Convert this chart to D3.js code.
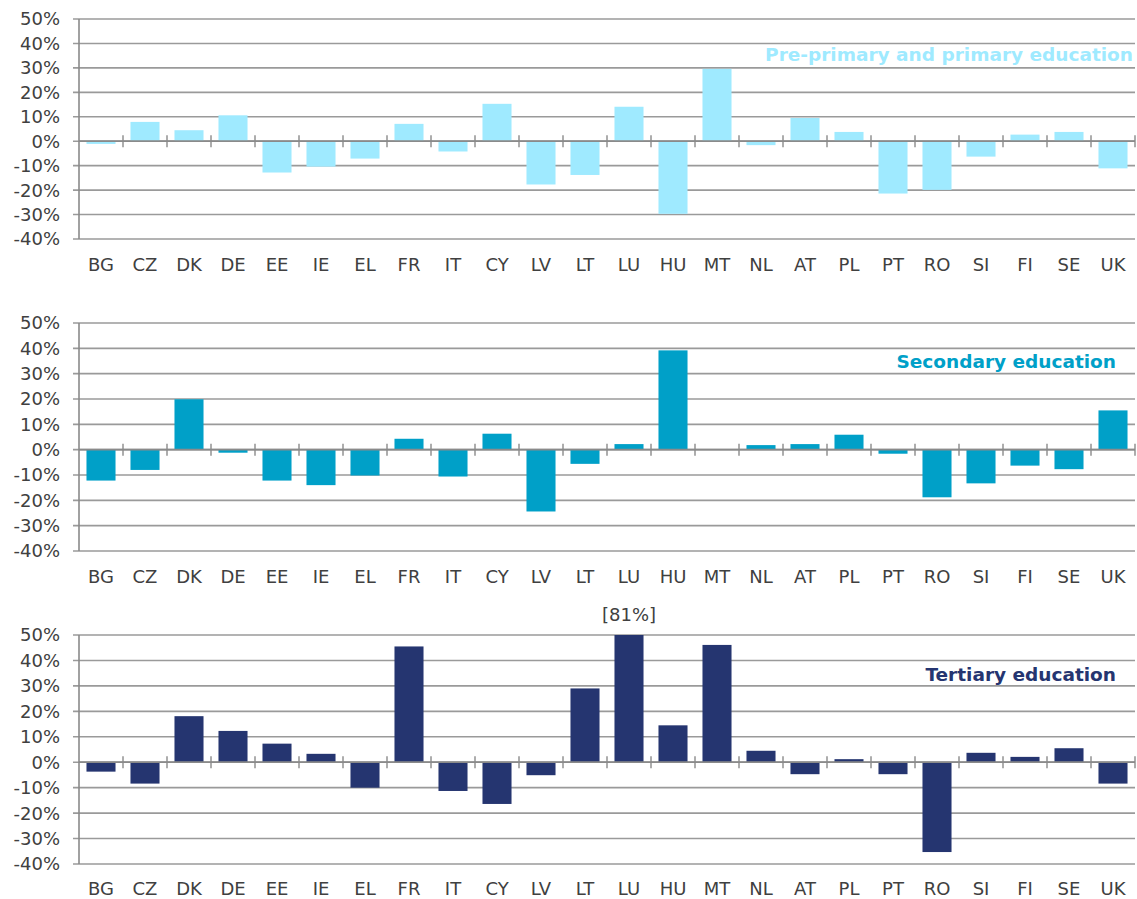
<!DOCTYPE html>
<html>
<head>
<meta charset="utf-8">
<script src="https://cdn.jsdelivr.net/npm/d3@7"></script>
<style>
  body { margin: 0; background: #fff; }
  text { font-family: "DejaVu Sans", Verdana, sans-serif; }
</style>
</head>
<body>
<div id="svgcontainer"></div>
<script>
// countries on the x axis
var countries = ["BG","CZ","DK","DE","EE","IE","EL","FR","IT","CY","LV","LT","LU","HU","MT","NL","AT","PL","PT","RO","SI","FI","SE","UK"];

// change in %
var primary   = [-1.1, 7.9, 4.5, 10.6, -12.8, -10.4, -7.1, 7.1, -4.2, 15.3, -17.7, -13.8, 14.1, -29.7, 29.6, -1.6, 9.5, 3.8, -21.4, -19.9, -6.3, 2.7, 3.8, -11.1];
var secondary = [-12.2, -8.0, 19.9, -1.2, -12.2, -14.0, -10.2, 4.3, -10.6, 6.3, -24.4, -5.6, 2.2, 39.2, 0, 1.8, 2.2, 5.9, -1.6, -18.8, -13.3, -6.3, -7.7, 15.5];
var tertiary  = [-3.7, -8.4, 18.1, 12.3, 7.3, 3.3, -10.0, 45.5, -11.3, -16.4, -5.1, 29.0, 81, 14.5, 46.1, 4.5, -4.7, 1.2, -4.7, -35.3, 3.7, 2.1, 5.5, -8.4];

var yTicks = [50, 40, 30, 20, 10, 0, -10, -20, -30, -40];

var width = 1137, height = 899;
var left = 79, right = 1135;

var svg = d3.select("#svgcontainer")
    .append("svg")
    .attr("width", width)
    .attr("height", height);

function drawPanel(values, top, bottom, color, title, titleX, titleY, labelY){
  var x = d3.scaleBand().domain(countries).range([left, right]).paddingInner(0.34).paddingOuter(0.17);
  var y = d3.scaleLinear().domain([-40, 50]).range([bottom, top]);
  var g = svg.append("g");

  // gridlines
  g.selectAll(".grid").data(yTicks).enter().append("line")
    .attr("x1", left - 6).attr("x2", right)
    .attr("y1", function(d){ return y(d); })
    .attr("y2", function(d){ return y(d); })
    .style("stroke", "#9a9a9a")
    .style("stroke-width", 1.6);

  // y labels
  g.selectAll(".ylab").data(yTicks).enter().append("text")
    .attr("x", 60)
    .attr("y", function(d){ return y(d); })
    .attr("dy", "0.36em")
    .attr("text-anchor", "end")
    .style("font-size", "18px")
    .style("fill", "#404040")
    .text(function(d){ return d + "%"; });

  // bars (clipped at the top of the scale)
  g.selectAll(".bar").data(values).enter().append("rect")
    .attr("x", function(d, i){ return x(countries[i]); })
    .attr("width", x.bandwidth())
    .attr("y", function(d){ return y(Math.min(50, Math.max(0, d))); })
    .attr("height", function(d){ return Math.abs(y(Math.min(50, d)) - y(0)); })
    .style("fill", color);

  // y axis line
  g.append("line")
    .attr("x1", left).attr("x2", left)
    .attr("y1", top).attr("y2", bottom)
    .style("stroke", "#8a8a8a")
    .style("stroke-width", 1.6);

  // zero line with tick marks
  g.append("line")
    .attr("x1", left).attr("x2", right)
    .attr("y1", y(0)).attr("y2", y(0))
    .style("stroke", "#8a8a8a")
    .style("stroke-width", 1.8);
  var step = x.step();
  var bounds = d3.range(1, countries.length + 1);
  g.selectAll(".xtick").data(bounds).enter().append("line")
    .attr("x1", function(d){ return left + d * step; })
    .attr("x2", function(d){ return left + d * step; })
    .attr("y1", y(0) - 6).attr("y2", y(0) + 6)
    .style("stroke", "#8a8a8a")
    .style("stroke-width", 1.4);

  // x labels
  g.selectAll(".xlab").data(countries).enter().append("text")
    .attr("x", function(d){ return x(d) + x.bandwidth() / 2; })
    .attr("y", labelY)
    .attr("dy", "0.36em")
    .attr("text-anchor", "middle")
    .style("font-size", "18px")
    .style("fill", "#404040")
    .text(function(d){ return d; });

  // series title
  g.append("text")
    .attr("x", titleX)
    .attr("y", titleY)
    .attr("dy", "0.36em")
    .attr("text-anchor", "end")
    .style("font-size", "18.5px")
    .style("font-weight", "bold")
    .style("fill", color)
    .text(title);

  return {x: x, y: y, g: g};
}

drawPanel(primary, 19, 239, "#9feaff", "Pre-primary and primary education", 1133, 54, 265);
drawPanel(secondary, 323, 551, "#00a0c8", "Secondary education", 1116, 361, 577);
var p3 = drawPanel(tertiary, 635, 864, "#253570", "Tertiary education", 1116, 674, 889);

// note for the bar that runs off the scale
tertiary.forEach(function(v, i){
  if(v > 50){
    p3.g.append("text")
      .attr("x", p3.x(countries[i]) + p3.x.bandwidth() / 2)
      .attr("y", 615)
      .attr("dy", "0.36em")
      .attr("text-anchor", "middle")
      .style("font-size", "18px")
      .style("fill", "#404040")
      .text("[" + v + "%]");
  }
});
</script>
</body>
</html>
